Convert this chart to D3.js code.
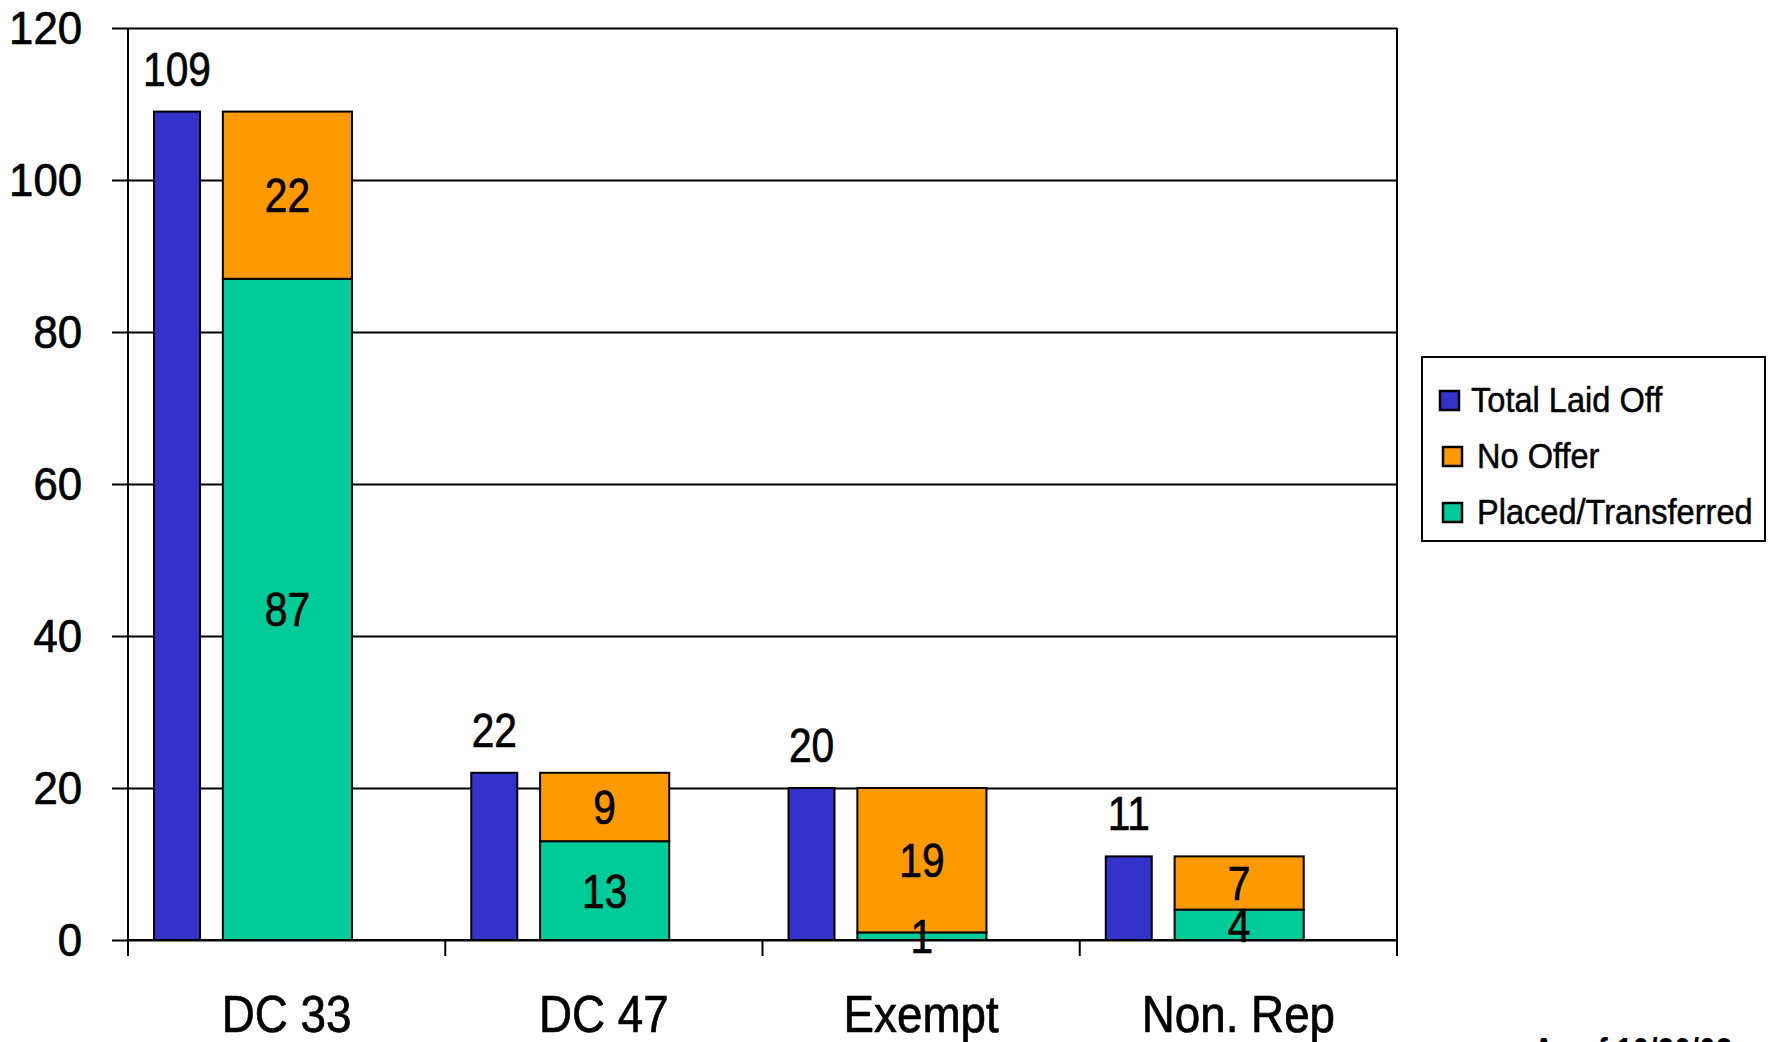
<!DOCTYPE html>
<html>
<head>
<meta charset="utf-8">
<script src="https://cdn.jsdelivr.net/npm/d3@7"></script>
<style>
  html, body { margin: 0; padding: 0; background: #ffffff; }
  svg { display: block; font-family: "Liberation Sans", Arial, sans-serif; }
  svg text { stroke: #000; stroke-width: 0.7px; paint-order: stroke; }
</style>
</head>
<body>
<svg id="chart" width="1772" height="1042"></svg>
<script>
// Layoff outcomes by bargaining unit
const categories = ["DC 33", "DC 47", "Exempt", "Non. Rep"];
const totalLaidOff = [109, 22, 20, 11];
const placedTransferred = [87, 13, 1, 4];
const noOffer = [22, 9, 19, 7];
const yTicks = [0, 20, 40, 60, 80, 100, 120];
const seriesNames = ["Total Laid Off", "No Offer", "Placed/Transferred"];
const seriesColors = ["#3333cc", "#ff9900", "#00cc99"];
const footnote = "As of 10/20/03";

(function () {
  const FONT = "Liberation Sans, Arial, sans-serif";
  const svg = d3.select("#chart");
  const plotLeft = 128, plotRight = 1397, plotTop = 28, plotBottom = 940;

  // narrow the glyphs of a text selection to a condensed face
  function condense(sel, k) {
    sel.each(function () {
      const w = this.getComputedTextLength();
      d3.select(this).attr("textLength", w * k).attr("lengthAdjust", "spacingAndGlyphs");
    });
  }

  const x = d3.scaleBand().domain(categories).range([plotLeft, plotRight]).padding(0);
  const y = d3.scaleLinear().domain([0, 120]).range([plotBottom, plotTop]);
  const bw = x.bandwidth();

  // gridlines
  svg.append("g")
    .attr("transform", `translate(${plotLeft},0)`)
    .call(d3.axisLeft(y).tickValues(yTicks).tickSize(-(plotRight - plotLeft)).tickFormat(""))
    .call(g => g.select(".domain").remove())
    .call(g => g.selectAll("line").attr("stroke", "#000").attr("stroke-width", 2));

  // y axis with outward ticks
  svg.append("g")
    .attr("transform", `translate(${plotLeft},0)`)
    .call(d3.axisLeft(y).tickValues(yTicks).tickSize(16).tickPadding(30))
    .call(g => g.select(".domain").remove())
    .call(g => g.selectAll("line").attr("stroke", "#000").attr("stroke-width", 2))
    .call(g => g.selectAll("text")
      .attr("font-size", 46).attr("fill", "#000").attr("font-family", FONT)
      .attr("dy", "0.34em")
      .call(condense, 0.95));

  // axis lines and plot right border
  svg.append("line").attr("x1", plotLeft).attr("x2", plotLeft).attr("y1", plotTop).attr("y2", plotBottom + 16)
    .attr("stroke", "#000").attr("stroke-width", 2);
  svg.append("line").attr("x1", plotRight).attr("x2", plotRight).attr("y1", plotTop).attr("y2", plotBottom + 16)
    .attr("stroke", "#000").attr("stroke-width", 2);
  svg.append("line").attr("x1", plotLeft).attr("x2", plotRight).attr("y1", plotBottom).attr("y2", plotBottom)
    .attr("stroke", "#000").attr("stroke-width", 2);

  // category boundary ticks
  svg.append("g").selectAll("line")
    .data(categories.map(c => x(c)))
    .join("line")
    .attr("x1", d => d).attr("x2", d => d)
    .attr("y1", plotBottom).attr("y2", plotBottom + 16)
    .attr("stroke", "#000").attr("stroke-width", 2);

  // category labels
  svg.append("g")
    .attr("transform", `translate(0,${plotBottom})`)
    .call(d3.axisBottom(x).tickSize(0).tickPadding(0))
    .call(g => g.select(".domain").remove())
    .call(g => g.selectAll("text")
      .attr("font-size", 52).attr("fill", "#000").attr("font-family", FONT)
      .attr("dy", null)
      .attr("y", 92)
      .call(condense, 0.88));

  // Total Laid Off bars
  const blueX = c => x(c) + bw * 0.082;
  const blueW = bw * 0.145;
  const totals = categories.map((c, i) => ({ c, v: totalLaidOff[i] }));
  svg.append("g").selectAll("rect")
    .data(totals)
    .join("rect")
    .attr("x", d => blueX(d.c)).attr("width", blueW)
    .attr("y", d => y(d.v)).attr("height", d => y(0) - y(d.v))
    .attr("fill", seriesColors[0]).attr("stroke", "#000").attr("stroke-width", 2);

  svg.append("g").selectAll("text")
    .data(totals)
    .join("text")
    .attr("x", d => blueX(d.c) + blueW / 2)
    .attr("y", d => y(d.v) - 26)
    .attr("text-anchor", "middle").attr("font-size", 49).attr("fill", "#000")
    .text(d => d.v)
    .call(condense, 0.83);

  // stacked Placed/Transferred + No Offer bars
  const stackX = c => x(c) + bw * 0.299;
  const stackW = bw * 0.407;
  const stackRows = categories.map((c, i) => ({ c, placed: placedTransferred[i], noOffer: noOffer[i] }));
  const stacked = d3.stack().keys(["placed", "noOffer"])(stackRows);
  const stackColors = { placed: seriesColors[2], noOffer: seriesColors[1] };

  svg.append("g").selectAll("g")
    .data(stacked)
    .join("g")
    .attr("fill", d => stackColors[d.key])
    .selectAll("rect")
    .data(d => d)
    .join("rect")
    .attr("x", d => stackX(d.data.c)).attr("width", stackW)
    .attr("y", d => y(d[1])).attr("height", d => y(d[0]) - y(d[1]))
    .attr("stroke", "#000").attr("stroke-width", 2);

  svg.append("g").selectAll("g")
    .data(stacked)
    .join("g")
    .selectAll("text")
    .data(d => d)
    .join("text")
    .attr("x", d => stackX(d.data.c) + stackW / 2)
    .attr("y", d => (y(d[0]) + y(d[1])) / 2 + 17)
    .attr("text-anchor", "middle").attr("font-size", 49).attr("fill", "#000")
    .text(d => d[1] - d[0])
    .call(condense, 0.83);

  // legend
  const legend = svg.append("g");
  legend.append("rect")
    .attr("x", 1422).attr("y", 357).attr("width", 343).attr("height", 184)
    .attr("fill", "#fff").attr("stroke", "#000").attr("stroke-width", 2);
  const legendRows = legend.selectAll("g.row")
    .data(seriesNames.map((n, i) => ({ n, col: seriesColors[i], i })))
    .join("g").attr("class", "row")
    .attr("transform", d => `translate(0,${391 + d.i * 56})`);
  legendRows.append("rect")
    .attr("x", d => d.i === 0 ? 1440 : 1443).attr("y", 0).attr("width", 19).attr("height", 19)
    .attr("fill", d => d.col).attr("stroke", "#000").attr("stroke-width", 2.5);
  legendRows.append("text")
    .attr("x", d => d.i === 0 ? 1471 : 1477).attr("y", 21)
    .attr("font-size", 35).attr("fill", "#000").style("stroke-width", "0.5px")
    .text(d => d.n)
    .call(condense, 0.93);

  // footnote, partly off the bottom edge
  svg.append("text")
    .attr("x", 1533).attr("y", 1064)
    .attr("font-size", 36).attr("font-weight", "bold").attr("fill", "#000")
    .style("stroke-width", "0px")
    .text(footnote)
    .call(condense, 0.83);
})();
</script>
</body>
</html>
